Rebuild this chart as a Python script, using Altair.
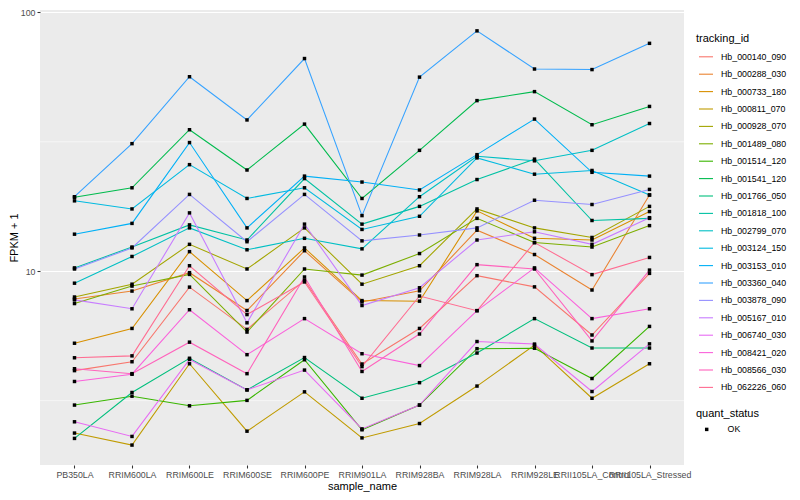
import altair as alt
import pandas as pd

FONT = "Liberation Sans"

samples = ["PB350LA", "RRIM600LA", "RRIM600LE", "RRIM600SE", "RRIM600PE",
           "RRIM901LA", "RRIM928BA", "RRIM928LA", "RRIM928LE",
           "RRII105LA_Control", "RRII105LA_Stressed"]

tracking_ids = ["Hb_000140_090", "Hb_000288_030", "Hb_000733_180", "Hb_000811_070",
                "Hb_000928_070", "Hb_001489_080", "Hb_001514_120", "Hb_001541_120",
                "Hb_001766_050", "Hb_001818_100", "Hb_002799_070", "Hb_003124_150",
                "Hb_003153_010", "Hb_003360_040", "Hb_003878_090", "Hb_005167_010",
                "Hb_006740_030", "Hb_008421_020", "Hb_008566_030", "Hb_062226_060"]

colors = ["#F8766D", "#EA8331", "#D89000", "#C09B00", "#A3A500", "#7CAE00",
          "#39B600", "#00BB4E", "#00BF7D", "#00C1A3", "#00BFC4", "#00BAE0",
          "#00B0F6", "#35A2FF", "#9590FF", "#C77CFF", "#E76BF3", "#FA62DB",
          "#FF62BC", "#FF6C91"]

# FPKM + 1 per sample (same order as samples)
hb_000140_090 = [4.13, 4.47, 8.68, 5.96, 9.23, 4.38, 6.01, 9.61, 8.70, 5.67, 9.81]
hb_000288_030 = [7.81, 8.38, 9.87, 7.05, 12.0, 7.61, 8.40, 14.4, 11.6, 8.46, 19.7]
hb_000733_180 = [5.27, 6.01, 11.9, 7.70, 12.3, 7.70, 7.66, 17.1, 13.4, 13.2, 17.0]
hb_000811_070 = [2.37, 2.13, 4.39, 2.41, 3.42, 2.27, 2.58, 3.60, 5.18, 3.23, 4.39]
hb_000928_070 = [7.95, 8.91, 12.7, 10.2, 14.7, 8.91, 10.5, 17.4, 14.7, 13.5, 17.8]
hb_001489_080 = [7.50, 8.76, 9.72, 5.82, 10.2, 9.66, 11.7, 16.0, 12.9, 12.4, 15.0]
hb_001514_120 = [3.04, 3.29, 3.02, 3.17, 4.55, 2.44, 3.04, 5.02, 5.04, 3.85, 6.12]
hb_001541_120 = [19.3, 21.0, 35.2, 24.6, 37.0, 19.1, 29.3, 45.6, 49.4, 36.8, 43.3]
hb_001766_050 = [2.26, 3.40, 4.61, 3.48, 4.64, 3.23, 3.71, 4.83, 6.56, 5.05, 5.05]
hb_001818_100 = [10.3, 12.4, 15.1, 13.2, 22.8, 15.2, 17.8, 22.6, 27.1, 15.7, 16.0]
hb_002799_070 = [8.99, 11.4, 14.7, 12.1, 13.4, 12.2, 19.4, 27.8, 26.7, 29.3, 37.2]
hb_003124_150 = [18.7, 17.4, 25.8, 19.1, 21.0, 14.5, 16.3, 27.4, 23.7, 24.5, 19.7]
hb_003153_010 = [13.9, 15.3, 31.4, 14.7, 23.3, 22.1, 20.6, 28.2, 38.7, 24.1, 23.3]
hb_003360_040 = [19.4, 31.1, 56.4, 38.4, 66.3, 16.4, 56.2, 84.8, 60.4, 60.1, 75.9]
hb_003878_090 = [10.2, 12.3, 19.8, 13.0, 19.8, 13.1, 13.8, 14.7, 18.8, 18.1, 20.7]
hb_005167_010 = [7.75, 7.16, 16.8, 6.32, 15.2, 7.37, 8.63, 13.2, 14.2, 12.7, 16.1]
hb_006740_030 = [2.62, 2.30, 4.56, 3.48, 4.15, 2.46, 3.04, 5.35, 5.23, 3.43, 5.24]
hb_008421_020 = [3.75, 4.00, 7.10, 4.76, 6.56, 4.80, 4.32, 7.04, 10.3, 6.56, 7.16]
hb_008566_030 = [4.20, 4.02, 5.32, 4.02, 9.50, 4.10, 5.72, 10.6, 10.2, 5.38, 10.1]
hb_062226_060 = [4.63, 4.71, 10.5, 6.80, 9.09, 4.28, 8.02, 7.04, 12.9, 9.70, 11.3]

series = [hb_000140_090, hb_000288_030, hb_000733_180, hb_000811_070, hb_000928_070,
          hb_001489_080, hb_001514_120, hb_001541_120, hb_001766_050, hb_001818_100,
          hb_002799_070, hb_003124_150, hb_003153_010, hb_003360_040, hb_003878_090,
          hb_005167_010, hb_006740_030, hb_008421_020, hb_008566_030, hb_062226_060]

quant_status = ["OK"]
minor_breaks = [3.1623, 31.623]
y_domain = [1.784, 102.1]
y_ticks = [10, 100]

rows = []
for tid, vals in zip(tracking_ids, series):
    for i, (s, v) in enumerate(zip(samples, vals)):
        rows.append({"tracking_id": tid, "sample_name": s, "fpkm1": v,
                     "quant_status": quant_status[0], "idx": i})
df = pd.DataFrame(rows)

x_enc = alt.X("sample_name:N", sort=samples,
              scale=alt.Scale(type="point", padding=0.6),
              axis=alt.Axis(title="sample_name", labelAngle=0, labelOverlap=False,
                            labelBound=False, labelFlush=False, labelPadding=2,
                            titlePadding=2))
y_scale = alt.Scale(type="log", domain=y_domain, nice=False)
y_axis = alt.Axis(title="FPKM + 1", values=y_ticks, format="d", labelPadding=2,
                  titlePadding=0.5)
y_enc = alt.Y("fpkm1:Q", scale=y_scale, axis=y_axis)

minor = alt.Chart(pd.DataFrame({"fpkm1": minor_breaks})).mark_rule(
    color="white", strokeWidth=0.55).encode(y=y_enc)

lines = alt.Chart(df).mark_line(strokeWidth=1.07).encode(
    x=x_enc, y=y_enc,
    color=alt.Color("tracking_id:N",
                    scale=alt.Scale(domain=tracking_ids, range=colors),
                    legend=alt.Legend(title="tracking_id", orient="none",
                                      legendX=656, legendY=22.8,
                                      symbolType="stroke", symbolSize=196,
                                      symbolStrokeWidth=1.1, symbolOffset=2,
                                      labelOffset=7, rowPadding=4.4,
                                      titlePadding=5, padding=0,
                                      labelFontSize=8.8, titleFontSize=11,
                                      labelColor="black", titleColor="black",
                                      titleFontWeight="normal",
                                      labelFont=FONT, titleFont=FONT)),
    order=alt.Order("idx:Q"),
)

points = alt.Chart(df).mark_point(filled=True, size=12, opacity=1).encode(
    x=x_enc, y=y_enc,
    color=alt.value("black"),
    shape=alt.Shape("quant_status:N",
                    scale=alt.Scale(domain=quant_status, range=["square"]),
                    legend=alt.Legend(title="quant_status", orient="none",
                                      legendX=656, legendY=398,
                                      symbolSize=12,
                                      symbolFillColor="black",
                                      symbolStrokeColor="black",
                                      symbolOffset=6.3, labelOffset=16.5,
                                      titlePadding=6, padding=0,
                                      labelFontSize=8.8, titleFontSize=11,
                                      labelColor="black", titleColor="black",
                                      titleFontWeight="normal",
                                      labelFont=FONT, titleFont=FONT)),
)

chart = alt.layer(minor, lines, points).properties(
    width=644, height=455,
    background="white",
    padding={"left": 32, "top": 2, "right": 108, "bottom": 27},
    autosize=alt.AutoSizeParams(type="none"),
).configure_view(
    fill="#EBEBEB", strokeWidth=0
).configure_axis(
    domain=False, gridColor="white", gridWidth=1.07,
    tickColor="#333333", tickWidth=1.07, tickSize=3,
    labelColor="#4D4D4D", labelFontSize=8.8, labelFont=FONT,
    titleColor="black", titleFontSize=11, titleFontWeight="normal", titleFont=FONT,
)

chart.save("out.html", embed_options={"renderer": "svg", "actions": False})
